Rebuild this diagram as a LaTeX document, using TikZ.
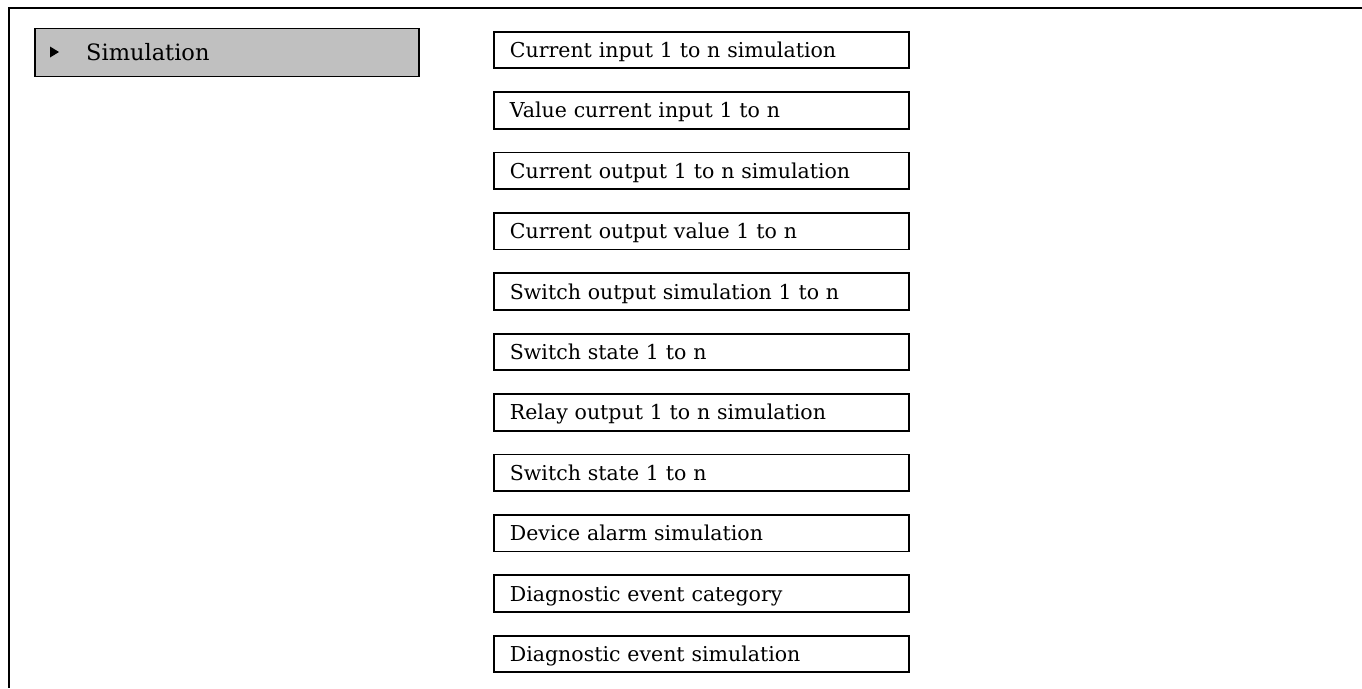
\documentclass[tikz,border=0pt]{standalone}
\usepackage{fontspec}
\setmainfont{DejaVu Serif}
\definecolor{headgray}{RGB}{192,192,192}
\tikzset{
  framebar/.style={line width=1.8pt},
  itembox/.style={draw, line width=1.8pt, minimum width=415pt, minimum height=36.6pt,
    text width=383pt, inner xsep=16pt, inner ysep=0pt, align=left, anchor=west,
    font=\fontsize{20.5}{22}\selectfont, text height=15pt, text depth=0pt},
  headbox/.style={draw, fill=headgray, line width=1.8pt, minimum width=384pt, minimum height=48pt,
    anchor=west, inner sep=0pt},
  headtext/.style={anchor=west, inner sep=0pt, font=\fontsize{22.5}{24}\selectfont, text height=16.4pt, text depth=0pt},
}
\begin{document}
\begin{tikzpicture}[x=1pt,y=-1pt]
\useasboundingbox (0,0) rectangle (1362,688);
\coordinate (fc) at (9,8);
\coordinate (fr) at (1362,8);
\coordinate (fb) at (9,688);
\draw[framebar] (fr) -- (fc) -- (fb);
\node[headbox] (head) at (34,52.5) {};
\fill (50,46.5) -- (59,52) -- (50,57.5) -- cycle;
\node[headtext] (headlabel) at (86,52.5) {Simulation};
\foreach \t [count=\i] in {
  Current input 1 to n simulation,
  Value current input 1 to n,
  Current output 1 to n simulation,
  Current output value 1 to n,
  Switch output simulation 1 to n,
  Switch state 1 to n,
  Relay output 1 to n simulation,
  Switch state 1 to n,
  Device alarm simulation,
  Diagnostic event category,
  Diagnostic event simulation}
{
  \node[itembox] (item\i) at (493, {50+(\i-1)*60.4}) {\t};
}
\end{tikzpicture}
\end{document}
